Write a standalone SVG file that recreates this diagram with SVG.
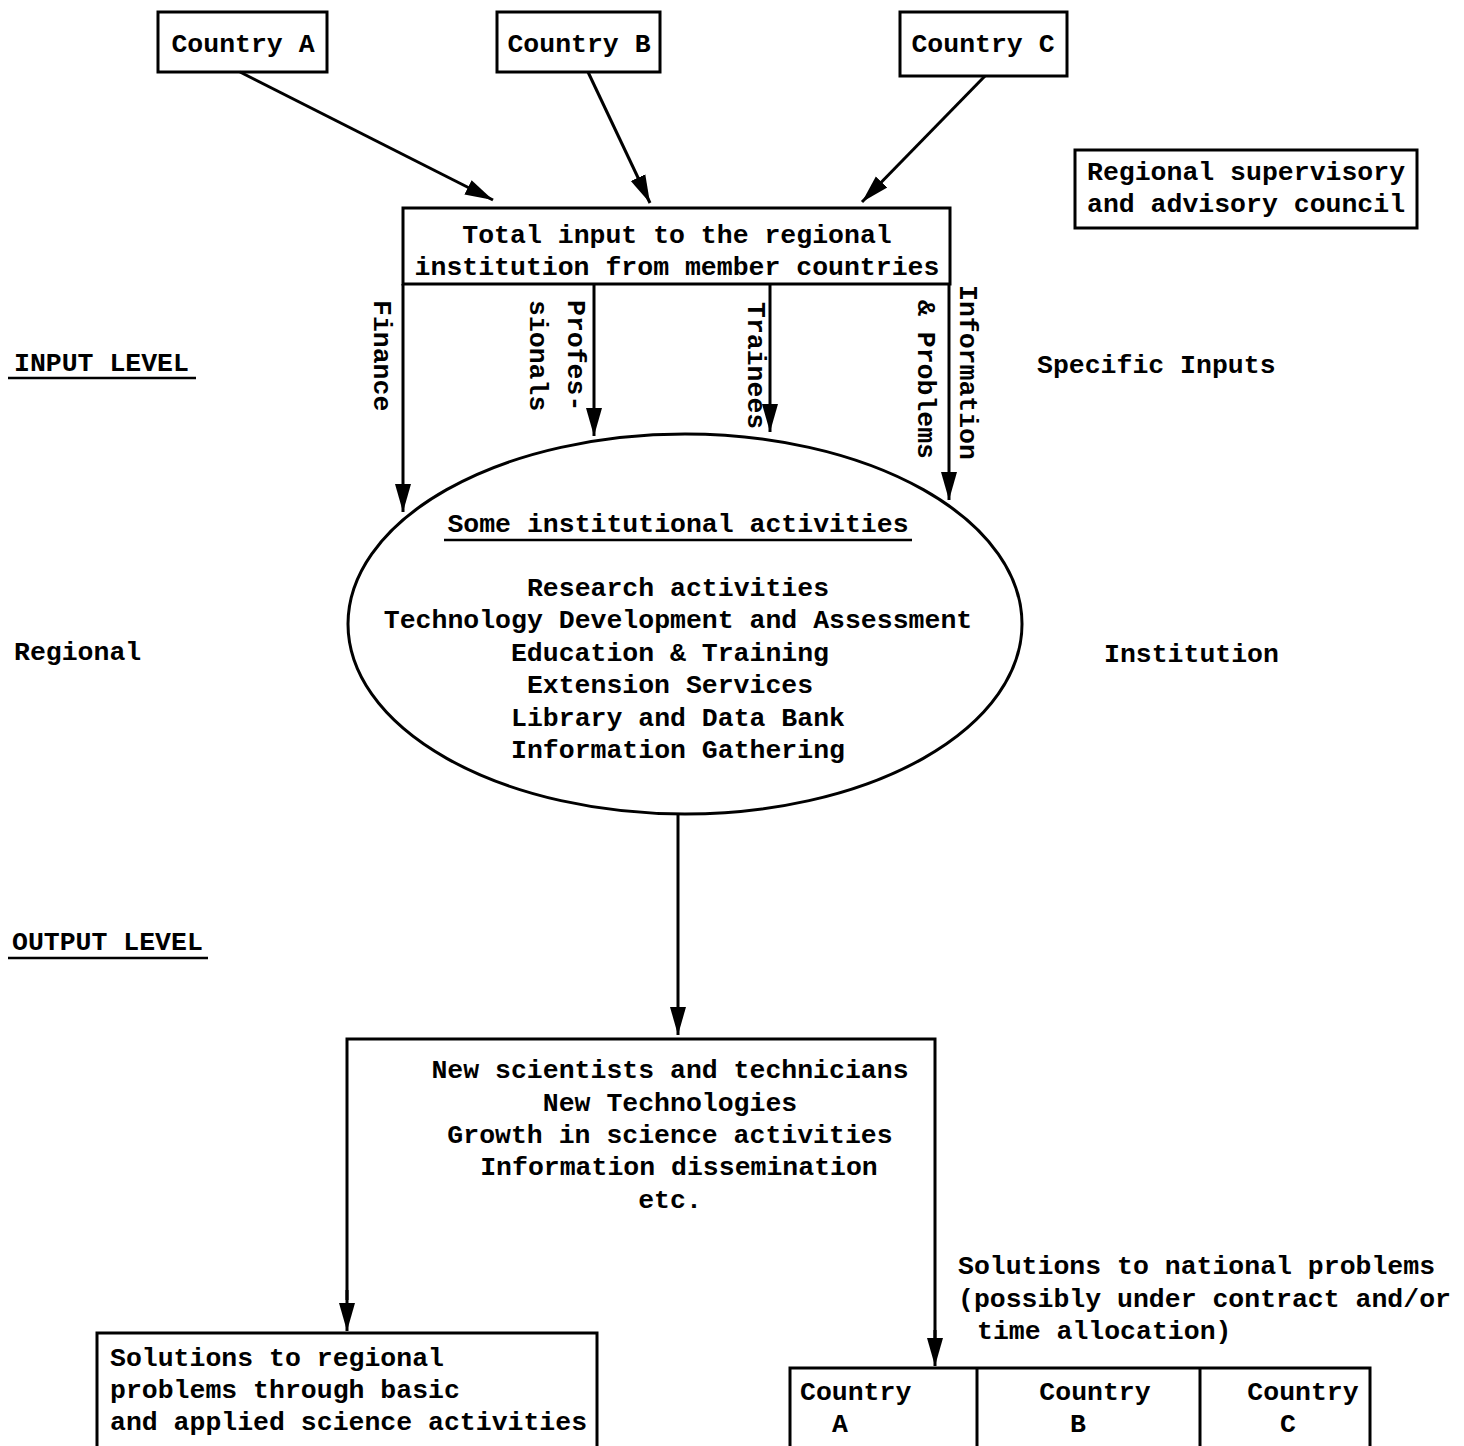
<svg xmlns="http://www.w3.org/2000/svg" width="1464" height="1446" viewBox="0 0 1464 1446">
<defs>
<marker id="ah" markerUnits="userSpaceOnUse" markerWidth="30" markerHeight="20" viewBox="0 0 30 20" refX="28" refY="10" orient="auto">
<path d="M0,2 L28,10 L0,18 Z" fill="#000"/>
</marker>
<style>
text{font-family:"Liberation Mono","DejaVu Sans Mono",monospace;font-size:26.5px;fill:#000;font-weight:bold}
.box{fill:none;stroke:#000;stroke-width:3}
.ln{fill:none;stroke:#000;stroke-width:3}
.ar{fill:none;stroke:#000;stroke-width:3;marker-end:url(#ah)}
.c{text-anchor:middle}
</style>
</defs>
<rect width="1464" height="1446" fill="#fff"/>

<g id="countryA"><rect class="box" x="158" y="12" width="169" height="60"/><text x="243" y="52" class="c">Country A</text></g>
<g id="countryB"><rect class="box" x="497" y="12" width="163" height="60"/><text x="579" y="52" class="c">Country B</text></g>
<g id="countryC"><rect class="box" x="900" y="12" width="167" height="64"/><text x="983" y="52" class="c">Country C</text></g>

<g id="council"><rect class="box" x="1075" y="150" width="342" height="78"/>
<text x="1087" y="180">Regional supervisory</text><text x="1087" y="212">and advisory council</text></g>

<g id="totalInput"><rect class="box" x="403" y="208" width="547" height="76"/>
<text x="677" y="243" class="c">Total input to the regional</text>
<text x="677" y="275" class="c">institution from member countries</text></g>

<g id="activities">
<ellipse cx="685" cy="624" rx="337" ry="190" class="box"/>
<text x="678" y="532" class="c">Some institutional activities</text>
<line x1="444" y1="540" x2="912" y2="540" stroke="#000" stroke-width="2.5"/>
<text x="678" y="596" class="c">Research activities</text>
<text x="678" y="628" class="c">Technology Development and Assessment</text>
<text x="670" y="661" class="c">Education &amp; Training</text>
<text x="670" y="693" class="c">Extension Services</text>
<text x="678" y="726" class="c">Library and Data Bank</text>
<text x="678" y="758" class="c">Information Gathering</text>
</g>

<g id="outputs">
<polyline class="ln" points="347,1300 347,1039 935,1039 935,1340"/>
<text x="670" y="1078" class="c">New scientists and technicians</text>
<text x="670" y="1111" class="c">New Technologies</text>
<text x="670" y="1143" class="c">Growth in science activities</text>
<text x="679" y="1175" class="c">Information dissemination</text>
<text x="670" y="1208" class="c">etc.</text>
</g>

<g id="regionalSolutions"><rect class="box" x="97" y="1333" width="500" height="125"/>
<text x="110" y="1366">Solutions to regional</text>
<text x="110" y="1398">problems through basic</text>
<text x="110" y="1430">and applied science activities</text></g>

<g id="countryTable"><rect class="box" x="790" y="1368" width="580" height="90"/>
<line class="ln" x1="977" y1="1368" x2="977" y2="1446"/>
<line class="ln" x1="1200" y1="1368" x2="1200" y2="1446"/>
<text x="800" y="1400">Country</text><text x="840" y="1432" class="c">A</text>
<text x="1095" y="1400" class="c">Country</text><text x="1078" y="1432" class="c">B</text>
<text x="1303" y="1400" class="c">Country</text><text x="1288" y="1432" class="c">C</text></g>

<g id="labels">
<text x="14" y="371">INPUT LEVEL</text>
<line x1="8" y1="378" x2="196" y2="378" stroke="#000" stroke-width="2.5"/>
<text x="14" y="660">Regional</text>
<text x="12" y="950">OUTPUT LEVEL</text>
<line x1="8" y1="958" x2="208" y2="958" stroke="#000" stroke-width="2.5"/>
<text x="1037" y="373">Specific Inputs</text>
<text x="1104" y="662">Institution</text>
<text x="958" y="1274">Solutions to national problems</text>
<text x="958" y="1307">(possibly under contract and/or</text>
<text x="977" y="1339">time allocation)</text>
<text transform="translate(374,300) rotate(90)">Finance</text>
<text transform="translate(568,300) rotate(90)">Profes-</text>
<text transform="translate(530,300) rotate(90)">sionals</text>
<text transform="translate(748,302) rotate(90)">Trainees</text>
<text transform="translate(960,285) rotate(90)">Information</text>
<text transform="translate(918,300) rotate(90)">&amp; Problems</text>
</g>

<g id="connectors">
<line class="ar" x1="240" y1="72" x2="493" y2="200"/>
<line class="ar" x1="588" y1="72" x2="650" y2="203"/>
<line class="ar" x1="985" y1="76" x2="862" y2="202"/>
<line class="ar" x1="403" y1="284" x2="403" y2="512"/>
<line class="ar" x1="594" y1="284" x2="594" y2="436"/>
<line class="ar" x1="770" y1="284" x2="770" y2="432"/>
<line class="ar" x1="949" y1="284" x2="949" y2="500"/>
<line class="ar" x1="678" y1="814" x2="678" y2="1035"/>
<line class="ar" x1="347" y1="1290" x2="347" y2="1331"/>
<line class="ar" x1="935" y1="1330" x2="935" y2="1366"/>
</g>
</svg>
